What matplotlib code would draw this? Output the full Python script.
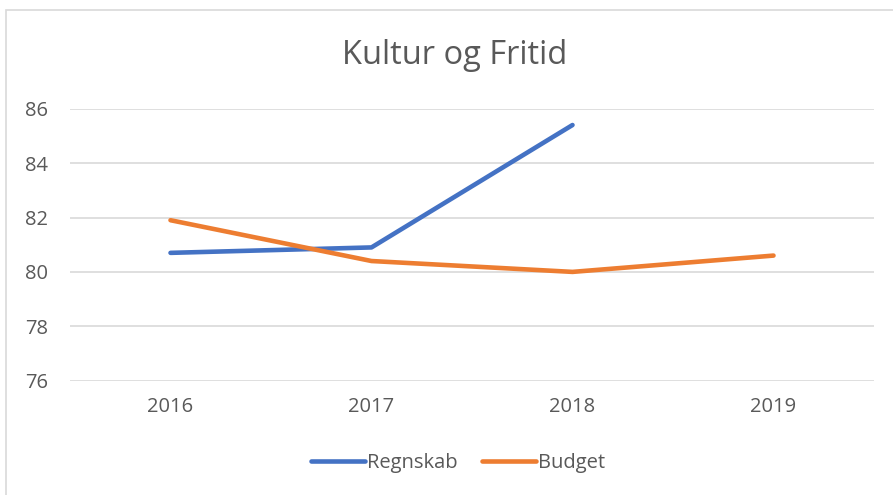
import matplotlib
matplotlib.use("Agg")
import matplotlib.pyplot as plt
from matplotlib.patches import Rectangle
from matplotlib.lines import Line2D

years = ["2016", "2017", "2018", "2019"]
regnskab = [80.7, 80.9, 85.4]
budget = [81.9, 80.4, 80.0, 80.6]
yticks = [76, 78, 80, 82, 84, 86]

W, H = 893, 495
fig = plt.figure(figsize=(W / 100, H / 100), dpi=100)
plt.rcParams['font.family'] = ['Open Sans', 'DejaVu Sans']

# chart frame
fig.patches.append(Rectangle((6 / W, -0.1), 1.2, 1 - 10 / H + 0.1,
                             transform=fig.transFigure, fill=False,
                             edgecolor='#D9D9D9', linewidth=1.2))

left, right = 70 / W, 874 / W
bottom, top = 1 - 380.7 / H, 1 - 108.7 / H
ax = fig.add_axes([left, bottom, right - left, top - bottom])

x = list(range(len(years)))
ax.plot(x[:len(regnskab)], regnskab, color='#4472C4', linewidth=3.3,
        solid_capstyle='round', label='Regnskab', zorder=3)
ax.plot(x, budget, color='#ED7D31', linewidth=3.3,
        solid_capstyle='round', label='Budget', zorder=3)

ax.set_xlim(-0.5, len(years) - 0.5)
ax.set_ylim(76, 86)
ax.set_yticks(yticks)
ax.set_yticklabels([str(v) for v in yticks])
ax.set_xticks(x)
ax.set_xticklabels(years)
ax.grid(axis='y', color='#D9D9D9', linewidth=1.2)
ax.set_axisbelow(True)
for s in ax.spines.values():
    s.set_visible(False)
ax.tick_params(axis='both', length=0, labelsize=14.5, labelcolor='#595959')
ax.tick_params(axis='y', pad=16)
ax.tick_params(axis='x', pad=12)

fig.text(455 / W, 1 - 55 / H, 'Kultur og Fritid', ha='center', va='center',
         fontsize=23.5, color='#595959')

handles = [Line2D([], [], color='#4472C4', linewidth=3.3, solid_capstyle='round'),
           Line2D([], [], color='#ED7D31', linewidth=3.3, solid_capstyle='round')]
fig.legend(handles, ['Regnskab', 'Budget'], loc='center',
           bbox_to_anchor=(458 / W, 1 - 463 / H), ncol=2, frameon=False,
           fontsize=14.5, labelcolor='#595959', handlelength=2.7,
           handletextpad=0.1, columnspacing=1.2)

fig.savefig('out.png', dpi=100)
